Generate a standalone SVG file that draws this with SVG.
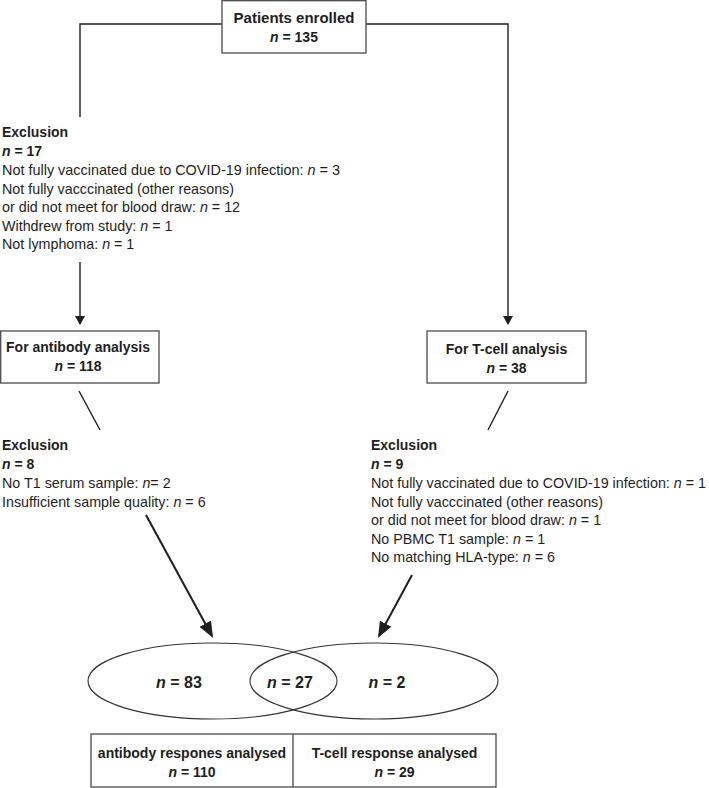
<svg xmlns="http://www.w3.org/2000/svg" width="709" height="788" viewBox="0 0 709 788">
<style>
text{font-family:"Liberation Sans",Arial,sans-serif;fill:#1e1e1e}
.b{font-weight:bold;font-size:14px}
.t{font-size:14.3px}
.i{font-style:italic}
.box{fill:#fff;stroke:#4a4a4a;stroke-width:1.3}
.ln{fill:none;stroke:#1e1e1e;stroke-width:1.4}
.la{fill:none;stroke:#1e1e1e;stroke-width:2}
.ell{fill:none;stroke:#333;stroke-width:1.1}
</style>
<defs>
<marker id="as" viewBox="0 0 9 10" refX="8" refY="5" markerWidth="9" markerHeight="10" markerUnits="userSpaceOnUse" orient="auto"><path d="M0,0 L9,5 L0,10 z" fill="#1e1e1e"/></marker>
<marker id="al" viewBox="0 0 16 13" refX="14" refY="6.5" markerWidth="16" markerHeight="13" markerUnits="userSpaceOnUse" orient="auto"><path d="M0,0 L16,6.5 L0,13 z" fill="#1e1e1e"/></marker>
</defs>
<g id="connectors">
<polyline class="ln" points="222,24 80,24 80,117"/>
<line class="ln" x1="80" y1="262" x2="80" y2="324" marker-end="url(#as)"/>
<polyline class="ln" points="366,24 508,24 508,324" marker-end="url(#as)"/>
<line class="ln" x1="79" y1="391" x2="100" y2="430"/>
<line class="ln" x1="508" y1="391" x2="488" y2="430"/>
<line class="la" x1="146" y1="515" x2="212" y2="636" marker-end="url(#al)"/>
<line class="la" x1="412" y1="575" x2="379" y2="636" marker-end="url(#al)"/>
</g>
<g id="enrolled">
<rect class="box" x="222" y="0.7" width="144" height="52.3"/>
<text x="294" y="23" text-anchor="middle" style="font-weight:bold;font-size:15px">Patients enrolled</text>
<text x="294" y="42" text-anchor="middle" class="b"><tspan class="i">n</tspan> = 135</text>
</g>
<g id="exclusion1">
<text x="2" y="137" class="b">Exclusion</text>
<text x="2" y="156" class="b"><tspan class="i">n</tspan> = 17</text>
<text x="2" y="175" class="t" textLength="338" lengthAdjust="spacingAndGlyphs">Not fully vaccinated due to COVID-19 infection: <tspan class="i">n</tspan> = 3</text>
<text x="2" y="193.5" class="t">Not fully vacccinated (other reasons)</text>
<text x="2" y="212" class="t">or did not meet for blood draw: <tspan class="i">n</tspan> = 12</text>
<text x="2" y="230.5" class="t">Withdrew from study: <tspan class="i">n</tspan> = 1</text>
<text x="2" y="249" class="t">Not lymphoma: <tspan class="i">n</tspan> = 1</text>
</g>
<g id="antibody">
<rect class="box" x="0.7" y="331" width="158.3" height="52"/>
<text x="78" y="352" text-anchor="middle" class="b">For antibody analysis</text>
<text x="78" y="371" text-anchor="middle" class="b"><tspan class="i">n</tspan> = 118</text>
</g>
<g id="tcell">
<rect class="box" x="427" y="331" width="159" height="52"/>
<text x="506.5" y="354" text-anchor="middle" class="b">For T-cell analysis</text>
<text x="506.5" y="373" text-anchor="middle" class="b"><tspan class="i">n</tspan> = 38</text>
</g>
<g id="exclusion2">
<text x="2" y="450" class="b">Exclusion</text>
<text x="2" y="469" class="b"><tspan class="i">n</tspan> = 8</text>
<text x="2" y="488" class="t">No T1 serum sample: <tspan class="i">n</tspan>= 2</text>
<text x="2" y="506.5" class="t">Insufficient sample quality: <tspan class="i">n</tspan> = 6</text>
</g>
<g id="exclusion3">
<text x="371" y="450" class="b">Exclusion</text>
<text x="371" y="469" class="b"><tspan class="i">n</tspan> = 9</text>
<text x="371" y="488" class="t" textLength="335" lengthAdjust="spacingAndGlyphs">Not fully vaccinated due to COVID-19 infection: <tspan class="i">n</tspan> = 1</text>
<text x="371" y="506.5" class="t">Not fully vacccinated (other reasons)</text>
<text x="371" y="525" class="t">or did not meet for blood draw: <tspan class="i">n</tspan> = 1</text>
<text x="371" y="543.5" class="t">No PBMC T1 sample: <tspan class="i">n</tspan> = 1</text>
<text x="371" y="562" class="t">No matching HLA-type: <tspan class="i">n</tspan> = 6</text>
</g>
<g id="venn">
<ellipse class="ell" cx="212.5" cy="681" rx="124.5" ry="38"/>
<ellipse class="ell" cx="374" cy="681" rx="124" ry="38"/>
<text x="179" y="688" text-anchor="middle" class="b" style="font-size:16px"><tspan class="i">n</tspan> = 83</text>
<text x="290" y="688" text-anchor="middle" class="b" style="font-size:16px"><tspan class="i">n</tspan> = 27</text>
<text x="387" y="688" text-anchor="middle" class="b" style="font-size:16px"><tspan class="i">n</tspan> = 2</text>
</g>
<g id="results">
<rect class="box" x="91" y="734" width="405" height="53"/>
<line x1="293" y1="734" x2="293" y2="787" stroke="#4a4a4a" stroke-width="1.3"/>
<text x="192" y="758" text-anchor="middle" class="b">antibody respones analysed</text>
<text x="192" y="777" text-anchor="middle" class="b"><tspan class="i">n</tspan> = 110</text>
<text x="394.5" y="758" text-anchor="middle" class="b">T-cell response analysed</text>
<text x="394.5" y="777" text-anchor="middle" class="b"><tspan class="i">n</tspan> = 29</text>
</g>
</svg>
